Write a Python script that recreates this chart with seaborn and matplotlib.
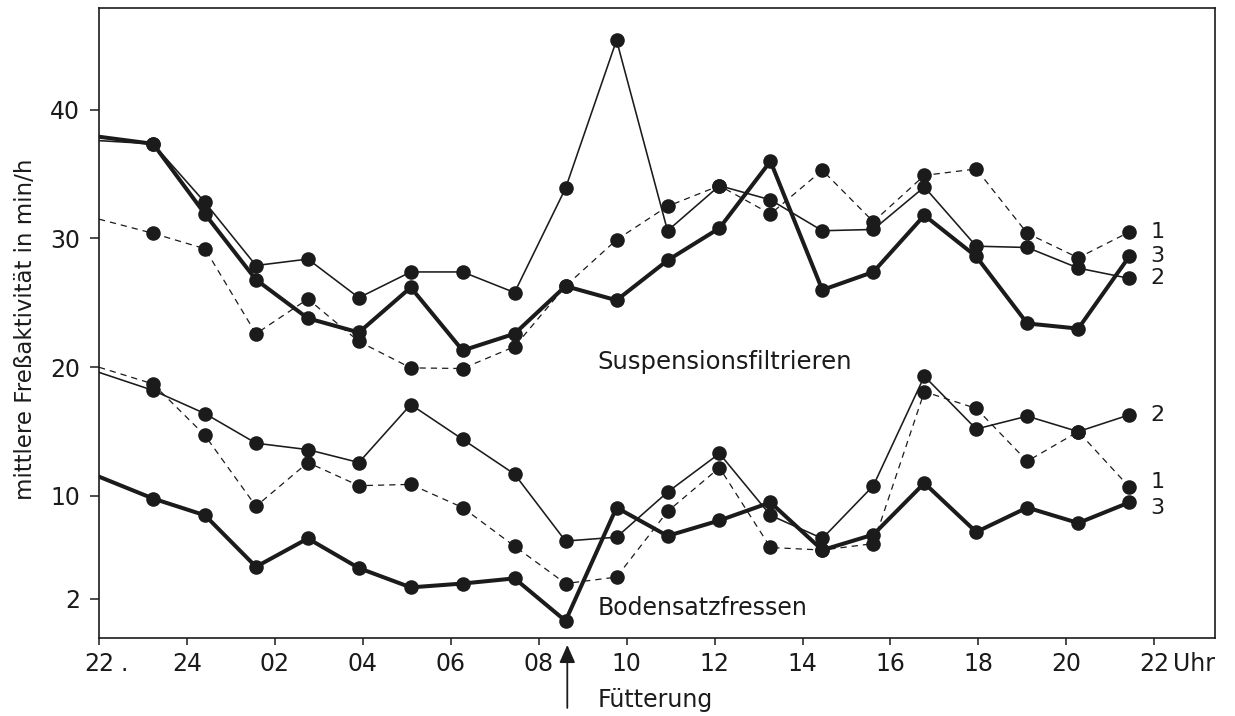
import matplotlib
matplotlib.use("Agg")
import matplotlib.pyplot as plt
import matplotlib.transforms as mtransforms
import pandas as pd
import seaborn as sns

# Messzeitpunkte, Stunden nach 22 Uhr
hours = [0.0, 1.23, 2.41, 3.57, 4.75, 5.91, 7.09, 8.27, 9.45, 10.61, 11.77,
         12.93, 14.11, 15.27, 16.45, 17.61, 18.77, 19.95, 21.11, 22.27, 23.43]

# Suspensionsfiltrieren, Gruppen 1-3 (min/h)
susp_1 = [31.5, 30.4, 29.2, 22.6, 25.3, 22.0, 19.95, 19.9, 21.6, 26.3, 29.9,
          32.5, 34.1, 31.9, 35.3, 31.3, 34.9, 35.4, 30.4, 28.5, 30.5]
susp_2 = [37.6, 37.35, 32.8, 27.9, 28.4, 25.4, 27.4, 27.4, 25.8, 33.9, 45.4,
          30.6, 34.1, 33.0, 30.6, 30.7, 34.0, 29.4, 29.3, 27.7, 26.9]
susp_3 = [37.9, 37.35, 31.9, 26.8, 23.8, 22.7, 26.2, 21.3, 22.6, 26.3, 25.2,
          28.3, 30.8, 36.0, 26.0, 27.4, 31.8, 28.6, 23.4, 23.0, 28.6]

# Bodensatzfressen, Gruppen 1-3 (min/h)
boden_1 = [20.0, 18.7, 14.7, 9.2, 12.6, 10.8, 10.9, 9.1, 6.1, 3.2, 3.7,
           8.8, 12.2, 6.0, 5.8, 6.3, 18.1, 16.8, 12.7, 15.0, 10.7]
boden_2 = [19.6, 18.2, 16.4, 14.1, 13.6, 12.6, 17.1, 14.4, 11.7, 6.5, 6.8,
           10.3, 13.3, 8.5, 6.7, 10.8, 19.3, 15.2, 16.2, 15.0, 16.3]
boden_3 = [11.5, 9.8, 8.5, 4.5, 6.7, 4.4, 2.9, 3.2, 3.6, 0.3, 9.1,
           6.9, 8.1, 9.5, 5.8, 7.0, 11.0, 7.2, 9.1, 7.9, 9.5]

feeding_hour = 10.65

tick_hours = [0, 2, 4, 6, 8, 10, 12, 14, 16, 18, 20, 22, 24]
tick_labels = ["22", "24", "02", "04", "06", "08", "10", "12", "14",
               "16", "18", "20", "22"]
y_ticks = [2, 10, 20, 30, 40]

sns.set_theme(style="ticks")
plt.rcParams["font.family"] = ["DejaVu Sans"]

ink = "#1b1b1b"
group_styles = {
    "1": dict(lw=0.9, ls=(0, (5, 4))),
    "2": dict(lw=1.15, ls="-"),
    "3": dict(lw=2.9, ls="-"),
}

fig = plt.figure(figsize=(12.35, 7.16), dpi=100)
ax = fig.add_axes([99 / 1235, 1 - 638 / 716, 1116 / 1235, 630 / 716])

# (Gruppe, Werte, vertikale Verschiebung der Gruppennummer)
series = [
    ("1", susp_1, 0.0), ("2", susp_2, 0.0), ("3", susp_3, 0.0),
    ("1", boden_1, 0.35), ("2", boden_2, 0.0), ("3", boden_3, -0.4),
]

for group, values, nudge in series:
    df = pd.DataFrame({"Stunde": hours, "Aktivitaet": values})
    st = group_styles[group]
    sns.lineplot(data=df, x="Stunde", y="Aktivitaet", ax=ax, color=ink,
                 linewidth=st["lw"], linestyle=st["ls"], sort=False,
                 estimator=None, errorbar=None, zorder=2)
    sns.scatterplot(data=df.iloc[1:], x="Stunde", y="Aktivitaet", ax=ax,
                    color=ink, s=110, linewidth=0, zorder=3)
    # Gruppennummer am Ende der Kurve
    ax.text(24.07, values[-1] + nudge, group, ha="center", va="center",
            fontsize=16, color=ink)

ax.set_xlim(0, 25.38)
ax.set_ylim(-1.03, 47.9)
ax.set_xticks(tick_hours)
ax.set_xticklabels(tick_labels)
ax.set_yticks(y_ticks)
ax.set_yticklabels([str(v) for v in y_ticks])
x_tick_len, x_tick_pad = 5, 5
ax.tick_params(axis="x", direction="out", length=x_tick_len, width=1.1,
               pad=x_tick_pad, labelsize=17, colors=ink)
ax.tick_params(axis="y", direction="out", length=6.5, width=1.1, pad=7,
               labelsize=17, colors=ink)
for sp in ax.spines.values():
    sp.set_visible(True)
    sp.set_linewidth(1.2)
    sp.set_color(ink)

ax.set_xlabel("")
ax.set_ylabel("mittlere Freßaktivität in min/h", fontsize=16.5, color=ink)
ax.yaxis.set_label_coords(-0.056, 0.49)

# Zusätze an der Zeitachse, auf der Grundlinie der Tick-Beschriftung
below = mtransforms.blended_transform_factory(ax.transData, ax.transAxes)
tick_row = below + mtransforms.ScaledTranslation(
    0, -(x_tick_len + x_tick_pad) / 72, fig.dpi_scale_trans)
ax.text(0.57, 0, ".", transform=tick_row, ha="center", va="top",
        fontsize=17, color=ink, clip_on=False)
ax.text(24.43, 0, "Uhr", transform=tick_row, ha="left", va="top",
        fontsize=17, color=ink, clip_on=False)

ax.text(11.34, 20.4, "Suspensionsfiltrieren", ha="left", va="center",
        fontsize=17.5, color=ink)
ax.text(11.34, 1.3, "Bodensatzfressen", ha="left", va="center",
        fontsize=17, color=ink)

# Fütterungszeitpunkt
ax.annotate("", xy=(feeding_hour, -0.011), xytext=(feeding_hour, -0.111),
            xycoords=below, textcoords=below, annotation_clip=False,
            arrowprops=dict(arrowstyle="-|>,head_length=0.9,head_width=0.4",
                            color=ink, lw=1.3, shrinkA=0, shrinkB=0))
ax.text(11.34, -0.098, "Fütterung", transform=below, ha="left", va="center",
        fontsize=17, color=ink, clip_on=False)

fig.savefig("out.png", dpi=100, facecolor="white")
